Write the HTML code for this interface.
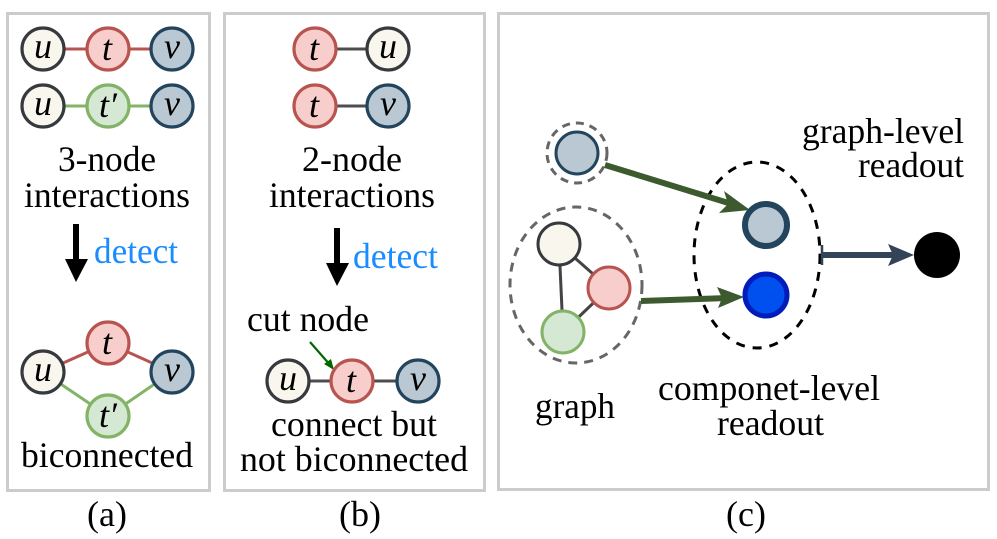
<!DOCTYPE html>
<html><head><meta charset="utf-8"><style>
html,body{margin:0;padding:0;background:#fff;}
svg{display:block;}
.m{font-style:italic;font-size:36px;}
.t{font-size:36px;}
</style></head><body>
<svg width="997" height="539" viewBox="0 0 997 539" xmlns="http://www.w3.org/2000/svg" font-family="'Liberation Serif', 'Times New Roman', serif">
<rect x="7.5" y="13.5" width="202" height="477" fill="none" stroke="#cccccc" stroke-width="3"/>
<rect x="224.5" y="13.5" width="260" height="477" fill="none" stroke="#cccccc" stroke-width="3"/>
<rect x="498.5" y="13.5" width="490" height="476" fill="none" stroke="#cccccc" stroke-width="3"/>

<!-- panel a -->
<line x1="43" y1="49" x2="172" y2="49" stroke="#b85450" stroke-width="3"/>
<line x1="43" y1="106" x2="172" y2="106" stroke="#82b366" stroke-width="3"/>
<g stroke-width="3.2">
<circle cx="43" cy="49" r="21" fill="#f9f7ed" stroke="#36393d"/>
<circle cx="108" cy="49" r="21" fill="#f8cecc" stroke="#b85450"/>
<circle cx="172" cy="49" r="21" fill="#bac8d3" stroke="#23445d"/>
<circle cx="43" cy="106" r="21" fill="#f9f7ed" stroke="#36393d"/>
<circle cx="108" cy="106" r="21" fill="#d5e8d4" stroke="#82b366"/>
<circle cx="172" cy="106" r="21" fill="#bac8d3" stroke="#23445d"/>
</g>
<g text-anchor="middle">
<text x="43" y="58" class="m">u</text><text x="107" y="60" class="m">t</text><text x="172" y="58" class="m">v</text>
<text x="43" y="115" class="m">u</text><text x="108" y="117" class="m">t′</text><text x="172" y="115" class="m">v</text>
</g>
<text x="107" y="171" class="t" text-anchor="middle" textLength="98" lengthAdjust="spacingAndGlyphs">3-node</text>
<text x="107" y="207" class="t" text-anchor="middle" textLength="166" lengthAdjust="spacingAndGlyphs">interactions</text>
<rect x="73" y="224" width="6" height="38" fill="#000"/>
<path d="M65,259 L88,259 L76,282 Z" fill="#000"/>
<text x="94" y="263" class="t" fill="#1a8cff" textLength="84" lengthAdjust="spacingAndGlyphs">detect</text>

<line x1="43" y1="372" x2="108" y2="343" stroke="#b85450" stroke-width="3"/>
<line x1="108" y1="343" x2="172" y2="372" stroke="#b85450" stroke-width="3"/>
<line x1="43" y1="372" x2="108" y2="416" stroke="#82b366" stroke-width="3"/>
<line x1="108" y1="416" x2="172" y2="372" stroke="#82b366" stroke-width="3"/>
<g stroke-width="3.2">
<circle cx="108" cy="343" r="21" fill="#f8cecc" stroke="#b85450"/>
<circle cx="43" cy="372" r="21" fill="#f9f7ed" stroke="#36393d"/>
<circle cx="172" cy="372" r="21" fill="#bac8d3" stroke="#23445d"/>
<circle cx="108" cy="416" r="21" fill="#d5e8d4" stroke="#82b366"/>
</g>
<text x="107" y="354" class="m" text-anchor="middle">t</text>
<text x="43" y="381" class="m" text-anchor="middle">u</text>
<text x="172" y="381" class="m" text-anchor="middle">v</text>
<text x="108" y="427" class="m" text-anchor="middle">t′</text>
<text x="107" y="467" class="t" text-anchor="middle" textLength="172" lengthAdjust="spacingAndGlyphs">biconnected</text>

<!-- panel b -->
<line x1="315" y1="49" x2="388" y2="49" stroke="#4d4d4d" stroke-width="3"/>
<line x1="315" y1="106" x2="388" y2="106" stroke="#4d4d4d" stroke-width="3"/>
<g stroke-width="3.2">
<circle cx="315" cy="49" r="21" fill="#f8cecc" stroke="#b85450"/>
<circle cx="388" cy="49" r="21" fill="#f9f7ed" stroke="#36393d"/>
<circle cx="315" cy="106" r="21" fill="#f8cecc" stroke="#b85450"/>
<circle cx="388" cy="106" r="21" fill="#bac8d3" stroke="#23445d"/>
</g>
<text x="314" y="60" class="m" text-anchor="middle">t</text>
<text x="388" y="58" class="m" text-anchor="middle">u</text>
<text x="314" y="117" class="m" text-anchor="middle">t</text>
<text x="388" y="115" class="m" text-anchor="middle">v</text>
<text x="352" y="171" class="t" text-anchor="middle" textLength="100" lengthAdjust="spacingAndGlyphs">2-node</text>
<text x="352" y="207" class="t" text-anchor="middle" textLength="166" lengthAdjust="spacingAndGlyphs">interactions</text>
<rect x="334" y="228" width="6" height="38" fill="#000"/>
<path d="M326,263 L349,263 L337,286 Z" fill="#000"/>
<text x="353" y="268" class="t" fill="#1a8cff" textLength="85" lengthAdjust="spacingAndGlyphs">detect</text>
<text x="247" y="331" class="t" textLength="122" lengthAdjust="spacingAndGlyphs">cut node</text>
<line x1="310" y1="342" x2="331" y2="366" stroke="#006600" stroke-width="2.2"/>
<path d="M334,370 L324,364 L331,359 Z" fill="#006600"/>
<line x1="288" y1="381" x2="418" y2="381" stroke="#4d4d4d" stroke-width="3"/>
<g stroke-width="3.2">
<circle cx="288" cy="381" r="21" fill="#f9f7ed" stroke="#36393d"/>
<circle cx="352" cy="381" r="21" fill="#f8cecc" stroke="#b85450"/>
<circle cx="418" cy="381" r="21" fill="#bac8d3" stroke="#23445d"/>
</g>
<text x="288" y="390" class="m" text-anchor="middle">u</text>
<text x="351" y="392" class="m" text-anchor="middle">t</text>
<text x="418" y="390" class="m" text-anchor="middle">v</text>
<text x="354" y="436" class="t" text-anchor="middle" textLength="166" lengthAdjust="spacingAndGlyphs">connect but</text>
<text x="354" y="471" class="t" text-anchor="middle" textLength="228" lengthAdjust="spacingAndGlyphs">not biconnected</text>

<!-- panel c -->
<circle cx="577" cy="153" r="30" fill="none" stroke="#666" stroke-width="3" stroke-dasharray="8,6"/>
<circle cx="577" cy="153" r="21" fill="#bac8d3" stroke="#23445d" stroke-width="3"/>
<ellipse cx="576" cy="285" rx="66" ry="78" fill="none" stroke="#666" stroke-width="3" stroke-dasharray="9,7"/>
<line x1="559" y1="244" x2="609" y2="288" stroke="#444" stroke-width="3"/>
<line x1="559" y1="244" x2="563" y2="332" stroke="#444" stroke-width="3"/>
<line x1="609" y1="288" x2="563" y2="332" stroke="#444" stroke-width="3"/>
<circle cx="559" cy="244" r="21" fill="#f9f7ed" stroke="#36393d" stroke-width="3"/>
<circle cx="609" cy="288" r="21" fill="#f8cecc" stroke="#b85450" stroke-width="3"/>
<circle cx="563" cy="332" r="21" fill="#d5e8d4" stroke="#82b366" stroke-width="3"/>
<ellipse cx="757" cy="255" rx="63" ry="93" fill="none" stroke="#000" stroke-width="3" stroke-dasharray="9,8"/>
<line x1="605" y1="165" x2="735" y2="205" stroke="#3d5a2e" stroke-width="6"/>
<path d="M750,210 L719,213 L728,204 L724,191 Z" fill="#3d5a2e"/>
<line x1="641" y1="301" x2="728" y2="298" stroke="#3d5a2e" stroke-width="6"/>
<path d="M744,297 L718,308 L722,298 L717,287 Z" fill="#3d5a2e"/>
<circle cx="766" cy="225" r="21" fill="#bac8d3" stroke="#23445d" stroke-width="6"/>
<circle cx="766" cy="295" r="21" fill="#0050ef" stroke="#001dbc" stroke-width="5"/>
<line x1="822" y1="255" x2="900" y2="255" stroke="#344458" stroke-width="6"/>
<line x1="822" y1="245" x2="822" y2="265" stroke="#344458" stroke-width="2.5"/>
<path d="M914,255 L888,266 L893,255 L888,244 Z" fill="#344458"/>
<circle cx="937" cy="255" r="23" fill="#000"/>
<text x="964" y="143" class="t" text-anchor="end" textLength="162" lengthAdjust="spacingAndGlyphs">graph-level</text>
<text x="964" y="177" class="t" text-anchor="end" textLength="106" lengthAdjust="spacingAndGlyphs">readout</text>
<text x="535" y="418" class="t" textLength="80" lengthAdjust="spacingAndGlyphs">graph</text>
<text x="658" y="400" class="t" textLength="222" lengthAdjust="spacingAndGlyphs">componet-level</text>
<text x="717" y="435" class="t" textLength="107" lengthAdjust="spacingAndGlyphs">readout</text>

<text x="107" y="526" class="t" text-anchor="middle">(a)</text>
<text x="360" y="526" class="t" text-anchor="middle">(b)</text>
<text x="746" y="526" class="t" text-anchor="middle">(c)</text>
</svg>
</body></html>
